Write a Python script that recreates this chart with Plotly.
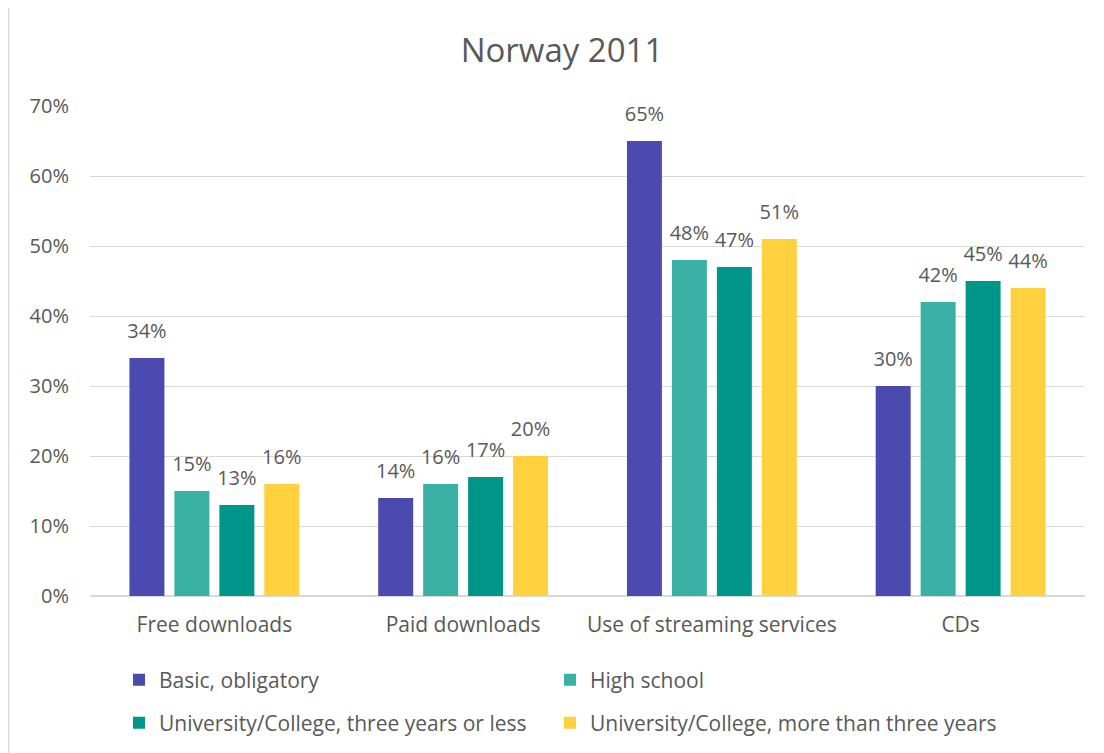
import plotly.graph_objects as go

categories = ["Free downloads", "Paid downloads", "Use of streaming services", "CDs"]
series_names = ["Basic, obligatory", "High school",
                "University/College, three years or less",
                "University/College, more than three years"]
basic = [0.34, 0.14, 0.65, 0.30]
high_school = [0.15, 0.16, 0.48, 0.42]
uni_short = [0.13, 0.17, 0.47, 0.45]
uni_long = [0.16, 0.20, 0.51, 0.44]
values = [basic, high_school, uni_short, uni_long]
colors = ["#4B4BAF", "#3BB0A4", "#00968A", "#FFD13F"]
legends = ["legend", "legend2", "legend3", "legend4"]

FONT = "'Open Sans', 'Noto Sans', sans-serif"
GREY = "#595959"

fig = go.Figure()
for name, vals, col, lg in zip(series_names, values, colors, legends):
    fig.add_trace(go.Bar(
        x=categories, y=vals, name=name, marker_color=col, marker_line_width=0,
        texttemplate="<span style='font-size:20px'>%{y:.0%}</span><br> ",
        textposition="outside", cliponaxis=False, constraintext="none",
        textfont=dict(size=11, color=GREY, family=FONT), legend=lg, showlegend=True,
    ))

W, H = 1104, 753
OFF = 8  # page offset of the figure in the screenshot
PX0, PX1, PY0, PY1 = 90, 1085, 106, 596
L = PX0 - OFF
R = W - (PX1 - OFF)
T = PY0 - OFF
B = H - (PY1 - OFF)
pw = PX1 - PX0
ph = PY1 - PY0

def px_x(x):
    return (x - PX0) / pw

def px_y(y):
    return (PY1 - y) / ph

def legend_at(x, y):
    return dict(orientation="h", x=px_x(x), xanchor="left", y=px_y(y), yanchor="middle",
                font=dict(size=21, color=GREY, family=FONT), bgcolor="rgba(0,0,0,0)",
                visible=True)

fig.update_layout(
    width=W, height=H,
    showlegend=True,
    margin=dict(l=L, r=R, t=T, b=B),
    paper_bgcolor="white", plot_bgcolor="white",
    font=dict(family=FONT, color=GREY),
    title=dict(text="Norway 2011", xref="container", x=(562 - OFF) / W, xanchor="center",
               y=1 - (50 - OFF) / H, yanchor="middle",
               font=dict(size=33, color=GREY, family=FONT)),
    barmode="group", bargap=0.277, bargroupgap=0.222,
    xaxis=dict(showgrid=False, showline=True, linecolor="#d9d9d9", ticks="",
               tickfont=dict(size=21, color=GREY, family=FONT), ticklabelstandoff=10),
    yaxis=dict(range=[0, 0.7], dtick=0.1, tickformat=".0%", showgrid=True,
               gridcolor="#d9d9d9", gridwidth=1, zeroline=True, zerolinecolor="#d9d9d9",
               tickfont=dict(size=20, color=GREY, family=FONT), ticklabelstandoff=20),
    legend=legend_at(119, 680),
    legend2=legend_at(550, 680),
    legend3=legend_at(119, 723),
    legend4=legend_at(550, 723),
    shapes=[dict(type="rect", xref="paper", yref="paper",
                 x0=px_x(8.5), x1=px_x(1130), y0=px_y(790), y1=px_y(7),
                 line=dict(color="#d9d9d9", width=1.5), fillcolor="rgba(0,0,0,0)", layer="below")],
)

fig.write_html("out.html")
